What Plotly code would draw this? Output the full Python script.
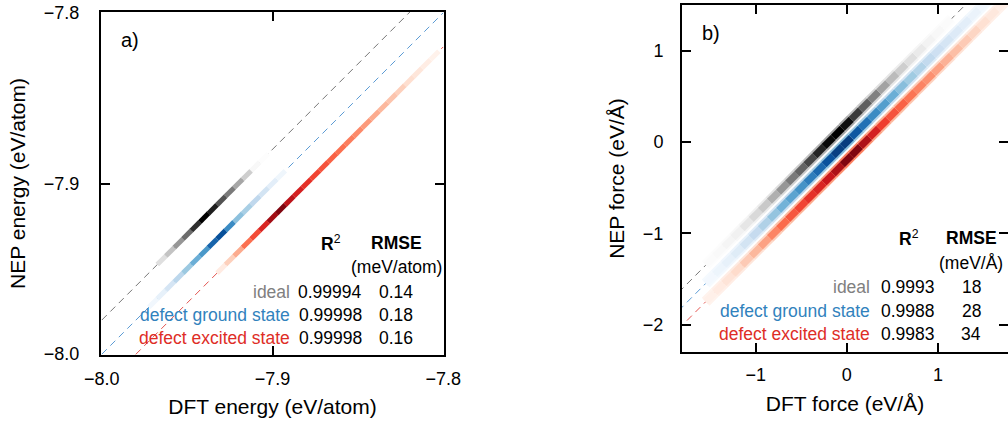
import plotly.graph_objects as go
from plotly.colors import sequential

# ---- panel a: energies (eV/atom), ridge of each density streak ----
a_ideal_dft = [-7.965, -7.960, -7.955, -7.950, -7.945, -7.940, -7.935, -7.930, -7.925, -7.920, -7.915, -7.910, -7.905]
a_ideal_nep = [-7.945, -7.940, -7.935, -7.930, -7.925, -7.920, -7.915, -7.910, -7.905, -7.900, -7.895, -7.890, -7.885]
a_ideal_dens = [0.22, 0.35, 0.5, 0.65, 0.85, 1.0, 0.9, 0.75, 0.6, 0.45, 0.3, 0.06, 0.02]

a_ground_dft = [-7.970, -7.965, -7.960, -7.955, -7.950, -7.945, -7.940, -7.935, -7.930, -7.925, -7.920, -7.915,
                -7.910, -7.905, -7.900, -7.895]
a_ground_nep = [-7.970, -7.965, -7.960, -7.955, -7.950, -7.945, -7.940, -7.935, -7.930, -7.925, -7.920, -7.915,
                -7.910, -7.905, -7.900, -7.895]
a_ground_dens = [0.03, 0.08, 0.17, 0.28, 0.38, 0.5, 0.6, 0.8, 0.88, 0.65, 0.42, 0.34, 0.27, 0.18, 0.1, 0.04]

a_excited_dft = [-7.930, -7.925, -7.920, -7.915, -7.910, -7.905, -7.900, -7.895, -7.890, -7.885, -7.880, -7.875,
                 -7.870, -7.865, -7.860, -7.855, -7.850, -7.845, -7.840, -7.835, -7.830, -7.825, -7.820, -7.815,
                 -7.810, -7.805]
a_excited_nep = [-7.950, -7.945, -7.940, -7.935, -7.930, -7.925, -7.920, -7.915, -7.910, -7.905, -7.900, -7.895,
                 -7.890, -7.885, -7.880, -7.875, -7.870, -7.865, -7.860, -7.855, -7.850, -7.845, -7.840, -7.835,
                 -7.830, -7.825]
a_excited_dens = [0.06, 0.18, 0.3, 0.48, 0.58, 0.7, 0.88, 0.95, 0.8, 0.72, 0.66, 0.6, 0.56, 0.52, 0.48, 0.44,
                  0.4, 0.35, 0.3, 0.26, 0.22, 0.18, 0.13, 0.09, 0.05, 0.02]

# ---- panel b: forces (eV/A) ----
b_ideal_dft = [-1.5, -1.4, -1.3, -1.2, -1.1, -1.0, -0.9, -0.8, -0.7, -0.6, -0.5, -0.4, -0.3, -0.2, -0.1, 0.0,
               0.1, 0.2, 0.3, 0.4, 0.5, 0.6, 0.7, 0.8, 0.9, 1.0, 1.1]
b_ideal_nep = [-1.3, -1.2, -1.1, -1.0, -0.9, -0.8, -0.7, -0.6, -0.5, -0.4, -0.3, -0.2, -0.1, 0.0, 0.1, 0.2,
               0.3, 0.4, 0.5, 0.6, 0.7, 0.8, 0.9, 1.0, 1.1, 1.2, 1.3]
b_ideal_dens = [0.03, 0.05, 0.08, 0.12, 0.18, 0.25, 0.32, 0.42, 0.5, 0.6, 0.68, 0.78, 0.88, 0.97, 1.0, 0.95,
                0.82, 0.7, 0.58, 0.46, 0.38, 0.3, 0.22, 0.16, 0.1, 0.06, 0.03]

b_ground_dft = [-1.5, -1.4, -1.3, -1.2, -1.1, -1.0, -0.9, -0.8, -0.7, -0.6, -0.5, -0.4, -0.3, -0.2, -0.1, 0.0,
                0.1, 0.2, 0.3, 0.4, 0.5, 0.6, 0.7, 0.8, 0.9, 1.0, 1.1, 1.2, 1.3, 1.4, 1.5]
b_ground_nep = [-1.5, -1.4, -1.3, -1.2, -1.1, -1.0, -0.9, -0.8, -0.7, -0.6, -0.5, -0.4, -0.3, -0.2, -0.1, 0.0,
                0.1, 0.2, 0.3, 0.4, 0.5, 0.6, 0.7, 0.8, 0.9, 1.0, 1.1, 1.2, 1.3, 1.4, 1.5]
b_ground_dens = [0.02, 0.05, 0.08, 0.12, 0.18, 0.25, 0.32, 0.4, 0.48, 0.55, 0.62, 0.7, 0.78, 0.87, 0.94, 0.95,
                 0.85, 0.75, 0.65, 0.57, 0.5, 0.43, 0.37, 0.31, 0.26, 0.21, 0.17, 0.13, 0.1, 0.06, 0.03]

b_excited_dft = [-1.5, -1.4, -1.3, -1.2, -1.1, -1.0, -0.9, -0.8, -0.7, -0.6, -0.5, -0.4, -0.3, -0.2, -0.1, 0.0,
                 0.1, 0.2, 0.3, 0.4, 0.5, 0.6, 0.7, 0.8, 0.9, 1.0, 1.1, 1.2, 1.3, 1.4, 1.5, 1.6, 1.7]
b_excited_nep = [-1.7, -1.6, -1.5, -1.4, -1.3, -1.2, -1.1, -1.0, -0.9, -0.8, -0.7, -0.6, -0.5, -0.4, -0.3, -0.2,
                 -0.1, 0.0, 0.1, 0.2, 0.3, 0.4, 0.5, 0.6, 0.7, 0.8, 0.9, 1.0, 1.1, 1.2, 1.3, 1.4, 1.5]
b_excited_dens = [0.03, 0.06, 0.1, 0.14, 0.2, 0.26, 0.33, 0.42, 0.5, 0.55, 0.6, 0.66, 0.7, 0.76, 0.85, 0.95,
                  0.95, 0.85, 0.72, 0.62, 0.56, 0.52, 0.47, 0.42, 0.38, 0.33, 0.28, 0.24, 0.2, 0.16, 0.12, 0.08, 0.04]

# dashed y = x guides (shifted like the data)
a_diag = [-8.0, -7.8]
a_shift = [0.02, 0.0, -0.02]
b_diag = [-2.5, 2.0]
b_shift = [0.2, 0.0, -0.2]

a_ticks = [-8.0, -7.9, -7.8]
b_xticks = [-1, 0, 1]
b_yticks = [-2, -1, 0, 1]

# table
labels = ["ideal", "defect ground state", "defect excited state"]
a_r2 = ["0.99994", "0.99998", "0.99998"]
a_rmse = ["0.14", "0.18", "0.16"]
b_r2 = ["0.9993", "0.9988", "0.9983"]
b_rmse = ["18", "28", "34"]

FONT = "Liberation Sans, Arial, sans-serif"
W, H = 1008, 427
text_colors = ["#808080", "#3182bd", "#de2d26"]
dash_colors = ["#777777", "#5b9bd5", "#e45550"]
scales = [sequential.Greys, sequential.Blues, sequential.Reds]


def px(x):
    return x / W


def py(y):
    return 1 - y / H


def streak(dft, nep, dens, scale, xa, ya, size, width, cmax=1.0):
    return go.Scatter(
        x=dft, y=nep, mode="markers", xaxis=xa, yaxis=ya,
        showlegend=False, hoverinfo="skip",
        marker=dict(symbol="line-ne", size=size, color=dens, colorscale=scale, cmin=0, cmax=cmax,
                    line=dict(width=width, color=dens, colorscale=scale, cmin=0, cmax=cmax)),
    )


fig = go.Figure()

# dashed guides
for shift, col in zip(a_shift, dash_colors):
    fig.add_trace(go.Scatter(x=a_diag, y=[v + shift for v in a_diag], mode="lines", xaxis="x", yaxis="y",
                             line=dict(color=col, width=1, dash="7px,5px"), showlegend=False, hoverinfo="skip"))
for shift, col in zip(b_shift, dash_colors):
    fig.add_trace(go.Scatter(x=b_diag, y=[v + shift for v in b_diag], mode="lines", xaxis="x2", yaxis="y2",
                             line=dict(color=col, width=1, dash="7px,5px"), showlegend=False, hoverinfo="skip"))

# panel a streaks
a_sets = [(a_ideal_dft, a_ideal_nep, a_ideal_dens),
          (a_ground_dft, a_ground_nep, a_ground_dens),
          (a_excited_dft, a_excited_nep, a_excited_dens)]
for (d, n, z), sc in zip(a_sets, scales):
    fig.add_trace(streak(d, n, z, sc, "x", "y", 8.6, 5))

# panel b streaks: soft halo + core
b_sets = [(b_ideal_dft, b_ideal_nep, b_ideal_dens),
          (b_ground_dft, b_ground_nep, b_ground_dens),
          (b_excited_dft, b_excited_nep, b_excited_dens)]
for (d, n, z), sc in zip(b_sets, scales):
    fig.add_trace(streak(d, n, z, sc, "x2", "y3", 9.1, 11, cmax=2.2))
for (d, n, z), sc in zip(b_sets, scales):
    fig.add_trace(streak(d, n, z, sc, "x2", "y3", 9.1, 7))

axis_common = dict(
    showgrid=False, zeroline=False, ticks="inside", ticklen=9, tickwidth=1.5, tickcolor="black",
    showline=True, linewidth=2, linecolor="black", mirror="ticks", automargin=False,
    tickfont=dict(family=FONT, size=18, color="black"),
)

fig.update_layout(
    width=W, height=H,
    margin=dict(l=0, r=0, t=0, b=0),
    paper_bgcolor="white", plot_bgcolor="white",
    font=dict(family=FONT, color="black"),
    xaxis=dict(axis_common, domain=[px(101), px(444)], range=[-8.0005, -7.7995], anchor="y",
               tickvals=a_ticks, tickformat=".1f", ticklabelstandoff=6,
               title=dict(text="DFT energy (eV/atom)", font=dict(size=21), standoff=12)),
    yaxis=dict(axis_common, domain=[py(355), py(12)], range=[-8.0005, -7.7995], anchor="x",
               tickvals=a_ticks, tickformat=".1f", ticklabelstandoff=16,
               title=dict(text="NEP energy (eV/atom)", font=dict(size=21), standoff=13)),
    xaxis2=dict(axis_common, domain=[px(682), 1.0], range=[-1.81, 1.77], anchor="y2",
                tickvals=b_xticks, tickformat="d", ticklabelstandoff=5,
                title=dict(text="DFT force (eV/Å)", font=dict(size=21), standoff=13)),
    yaxis2=dict(axis_common, domain=[py(352), py(5)], range=[-2.30, 1.50], anchor="x2", mirror=False,
                tickvals=b_yticks, tickformat="d", ticklabelstandoff=13,
                title=dict(text="NEP force (eV/Å)", font=dict(size=21), standoff=13)),
    yaxis3=dict(overlaying="y2", side="right", anchor="x2", range=[-2.30, 1.50], showgrid=False,
                zeroline=False, ticks="inside", ticklen=9, tickwidth=1.5, tickcolor="black",
                tickvals=b_yticks, showticklabels=False, showline=False, automargin=False),
)

ann = []
ann.append(dict(x=px(130), y=py(40), text="a)", font=dict(size=20)))
ann.append(dict(x=px(711), y=py(33), text="b)", font=dict(size=20)))

# table, panel a
ann.append(dict(x=px(331), y=py(243), text="<b>R</b><sup>2</sup>", font=dict(size=17.5)))
ann.append(dict(x=px(396), y=py(243), text="<b>RMSE</b>", font=dict(size=17.5)))
ann.append(dict(x=px(396), y=py(267), text="(meV/atom)", font=dict(size=17.5)))
for i, yy in enumerate([292, 315, 338]):
    ann.append(dict(x=px(292), y=py(yy), text=labels[i], xanchor="right",
                    font=dict(size=17.5, color=text_colors[i])))
    ann.append(dict(x=px(330), y=py(yy), text=a_r2[i], font=dict(size=17.5)))
    ann.append(dict(x=px(396), y=py(yy), text=a_rmse[i], font=dict(size=17.5)))

# table, panel b
ann.append(dict(x=px(909), y=py(238), text="<b>R</b><sup>2</sup>", font=dict(size=17.5)))
ann.append(dict(x=px(971), y=py(238), text="<b>RMSE</b>", font=dict(size=17.5)))
ann.append(dict(x=px(971), y=py(263), text="(meV/Å)", font=dict(size=17.5)))
for i, yy in enumerate([287, 311, 334]):
    ann.append(dict(x=px(872), y=py(yy), text=labels[i], xanchor="right",
                    font=dict(size=17.5, color=text_colors[i])))
    ann.append(dict(x=px(908), y=py(yy), text=b_r2[i], font=dict(size=17.5)))
    ann.append(dict(x=px(971), y=py(yy), text=b_rmse[i], font=dict(size=17.5)))

for a in ann:
    a.setdefault("xanchor", "center")
    a.update(xref="paper", yref="paper", yanchor="middle", showarrow=False)
    a["font"].setdefault("color", "black")
    a["font"]["family"] = FONT
fig.update_layout(annotations=ann)

# the page's default body margin would push the 1008x427 figure off the window
fig.write_html("out.html", config={"displayModeBar": False},
               post_script="document.body.style.margin = '0';")
